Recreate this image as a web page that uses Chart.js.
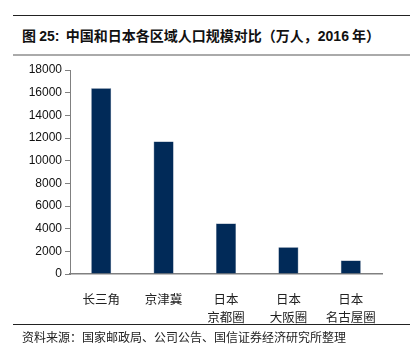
<!DOCTYPE html>
<html>
<head>
<meta charset="utf-8">
<script src="https://cdn.jsdelivr.net/npm/chart.js@4"></script>
<style>
  html, body { margin: 0; padding: 0; background: #fff; }
  #wrap { position: relative; width: 418px; height: 359px; overflow: hidden; }
  #chart { position: absolute; left: 0; top: 0; }
  .rule { position: absolute; left: 13px; width: 397px; }
  .title { position: absolute; left: 22px; top: 25px; font: bold 14px "Noto Sans CJK SC", "Liberation Sans", sans-serif; color: #111; white-space: nowrap; }
  .title b { font-family: "Liberation Sans", Arial, sans-serif; }
  .source { position: absolute; left: 22px; top: 328px; font: 12px "Noto Sans CJK SC", sans-serif; color: #222; white-space: nowrap; }
</style>
</head>
<body>
<div id="wrap">
  <div class="rule" style="top:15px;height:1px;background:#222"></div>
  <div class="title">图 <b>25:</b>&nbsp; 中国和日本各区域人口规模对比（万人，<b>2016</b> 年）</div>
  <div class="rule" style="top:54px;height:2px;background:#aaa"></div>
  <canvas id="chart" width="418" height="359"></canvas>
  <div class="rule" style="top:324px;height:1px;background:#222"></div>
  <div class="source">资料来源：国家邮政局、公司公告、国信证券经济研究所整理</div>
</div>
<script>
// 各区域人口（万人，2016年）
const regions = [["长三角"], ["京津冀"], ["日本", "京都圈"], ["日本", "大阪圈"], ["日本", "名古屋圈"]];
const population = [16400, 11700, 4450, 2350, 1200];
const yMin = 0;
const yMax = 18000;
const yStep = 2000;

const axisGray = "#808080";

new Chart(document.getElementById("chart"), {
  type: "bar",
  data: {
    labels: regions,
    datasets: [{
      data: population,
      backgroundColor: "#012a58",
      borderColor: "#3a5478",
      borderWidth: 0.5,
      categoryPercentage: 1,
      barPercentage: 0.32,
    }],
  },
  options: {
    responsive: false,
    animation: false,
    events: [],
    layout: { padding: { left: 0, top: 70, right: 36, bottom: 0 } },
    plugins: { legend: { display: false }, tooltip: { enabled: false } },
    scales: {
      x: {
        grid: { display: false },
        border: { color: axisGray, width: 1.5 },
        ticks: {
          color: "#222",
          padding: 8,
          maxRotation: 0,
          autoSkip: false,
          font: { family: "'Noto Sans CJK SC', sans-serif", size: 12.5, lineHeight: 1.45 },
        },
        afterFit: (s) => { s.height = 85; },
      },
      y: {
        min: yMin,
        max: yMax,
        ticks: {
          stepSize: yStep,
          color: "#111",
          padding: 3,
          font: { family: "'Liberation Sans', Arial, sans-serif", size: 12 },
          callback: (v) => String(v),
        },
        grid: { drawOnChartArea: false, drawTicks: true, tickLength: 5, color: axisGray },
        border: { color: axisGray, width: 1 },
        afterFit: (s) => { s.width = 70; },
      },
    },
  },
});
</script>
</body>
</html>
